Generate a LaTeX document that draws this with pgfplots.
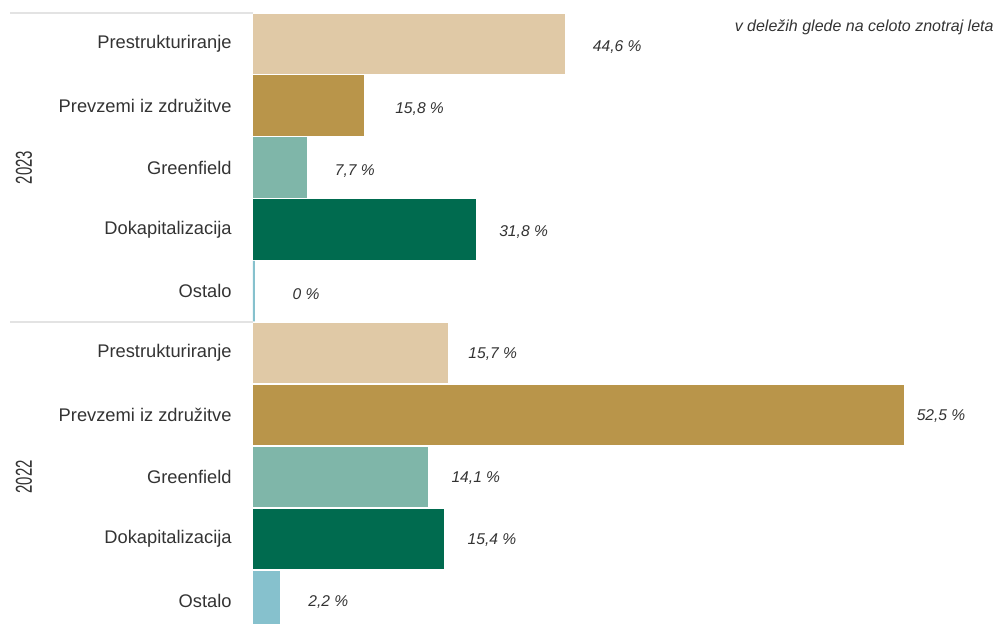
\documentclass[border=0pt]{standalone}
\usepackage{pgfplots}
\pgfplotsset{compat=1.18}
\usepackage{fontspec}
\setmainfont{Liberation Sans}
\definecolor{cBeige}{HTML}{E0C9A6}
\definecolor{cGold}{HTML}{B9954A}
\definecolor{cTeal}{HTML}{7FB6A9}
\definecolor{cGreen}{HTML}{006B4F}
\definecolor{cBlue}{HTML}{86C1CD}
\definecolor{cText}{HTML}{333333}
\definecolor{cSep}{HTML}{E3E3E3}
\pgfplotsset{
  facet/.style={
    scale only axis, width=375pt, xmin=0,
    y dir=reverse, xbar, bar width=0.98, bar shift=0pt,
    axis line style={draw=none}, tick style={draw=none}, major tick length=0pt,
    xtick=\empty, ytick={1,2,3,4,5},
    yticklabels={Prestrukturiranje,Prevzemi iz združitve,Greenfield,Dokapitalizacija,Ostalo},
    yticklabel style={anchor=east, inner sep=0pt, xshift=-10.5pt, text=cText, font=\fontsize{9.15}{11}\selectfont},
    nodes near coords={\pgfmathprintnumber[assume math mode=true, fixed, precision=1, use comma]{\pgfplotspointmeta}~\%},
    every node near coord/.append style={anchor=center, xshift=24pt, text=cText, font=\itshape\fontsize{7.8}{9}\selectfont},
  }
}
\begin{document}
\begin{tikzpicture}
\useasboundingbox (0,0) rectangle (501.5pt,-312pt);
% 2023
\begin{axis}[facet, at={(126.5pt,-6.5pt)}, anchor=north west, height=154.5pt, xmax=107.14, ymin=0.5, ymax=5.5,
  every node near coord/.append style={yshift=-1.6pt}]
\addplot[fill=cBeige, draw=none, every node near coord/.append style={xshift=2pt}] coordinates {(44.6,1)};
\addplot[fill=cGold, draw=none, every node near coord/.append style={xshift=4pt}] coordinates {(15.8,2)};
\addplot[fill=cTeal, draw=none] coordinates {(7.7,3)};
\addplot[fill=cGreen, draw=none] coordinates {(31.8,4)};
\addplot[fill=cBlue, draw=cBlue, line width=1.6pt, every node near coord/.append style={xshift=2.5pt}] coordinates {(0,5)};
\end{axis}
% 2022
\begin{axis}[facet, at={(126.5pt,-161pt)}, anchor=north west, height=151pt, xmax=60.48, ymin=0.5, ymax=5.371,
  every node near coord/.append style={yshift=-0.6pt}]
\addplot[fill=cBeige, draw=none, every node near coord/.append style={xshift=-1.5pt}] coordinates {(15.7,1)};
\addplot[fill=cGold, draw=none, every node near coord/.append style={xshift=-5.5pt}] coordinates {(52.5,2)};
\addplot[fill=cTeal, draw=none] coordinates {(14.1,3)};
\addplot[fill=cGreen, draw=none] coordinates {(15.4,4)};
\addplot[fill=cBlue, draw=none] coordinates {(2.2,5)};
\end{axis}
\draw[cSep, line width=0.6pt] (5pt,-6.5pt) -- (126.5pt,-6.5pt);
\draw[cSep, line width=0.6pt] (5pt,-161pt) -- (126.5pt,-161pt);
\node[rotate=90, text=cText, inner sep=0pt, font=\fontsize{11.5}{13}\selectfont] at (12pt,-83.75pt) {\scalebox{0.65}[1]{2023}};
\node[rotate=90, text=cText, inner sep=0pt, font=\fontsize{11.5}{13}\selectfont] at (12pt,-238.5pt) {\scalebox{0.65}[1]{2022}};
\node[anchor=east, inner sep=0pt, text=cText, font=\itshape\fontsize{8.0}{10}\selectfont] at (497pt,-13.5pt) {v deležih glede na celoto znotraj leta};
\end{tikzpicture}
\end{document}
